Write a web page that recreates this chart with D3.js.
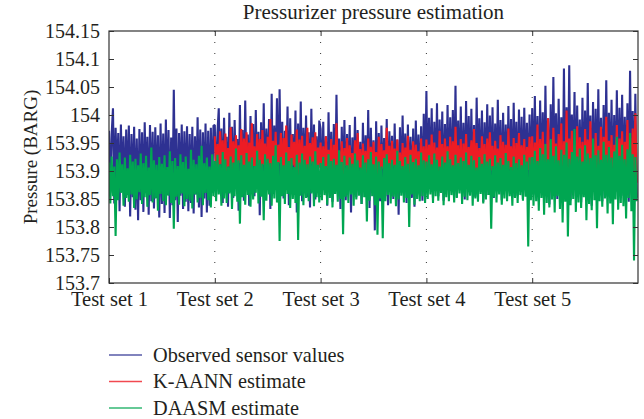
<!DOCTYPE html>
<html>
<head>
<meta charset="utf-8">
<script src="https://cdn.jsdelivr.net/npm/d3@7"></script>
<style>
  body { margin: 0; background: #fff; }
  text { font-family: "Liberation Serif", "DejaVu Serif", serif; fill: #231f20; }
</style>
</head>
<body>
<div id="chart"></div>
<script>
// Test set labels (one per x tick)
const testSets = ['Test set 1', 'Test set 2', 'Test set 3', 'Test set 4', 'Test set 5'];
const samplesPerSet = 80;
const yTicks = [153.7, 153.75, 153.8, 153.85, 153.9, 153.95, 154, 154.05, 154.1, 154.15];

// Observed sensor values, test sets 1-5 (80 samples each)
const observed = [
  // set 1
  153.972, 153.861, 153.965, 154.012, 153.842, 153.977, 153.884, 153.968, 153.828, 153.983, 153.871, 153.962, 153.836, 153.974, 153.857, 153.981, 153.819, 153.966, 153.853, 153.979,
  153.831, 153.958, 153.812, 153.975, 153.848, 153.969, 153.827, 153.987, 153.864, 153.961, 153.822, 153.982, 153.846, 153.97, 153.833, 153.978, 153.852, 153.964, 153.817, 153.985,
  153.841, 153.967, 153.825, 153.992, 153.857, 153.973, 153.816, 153.96, 153.839, 154.045, 153.848, 153.976, 153.809, 153.968, 153.856, 153.983, 153.832, 153.971, 153.845, 153.98,
  153.828, 153.966, 153.843, 153.979, 153.824, 153.962, 153.858, 153.996, 153.835, 153.974, 153.818, 153.969, 153.851, 153.985, 153.826, 153.972, 153.838, 153.977, 153.861, 153.981,
  // set 2
  153.982, 153.858, 153.968, 154.012, 153.871, 153.976, 153.843, 153.995, 153.887, 153.961, 153.836, 154.004, 153.865, 153.979, 153.852, 153.991, 153.878, 153.957, 153.829, 154.018,
  153.862, 153.973, 153.847, 154.026, 153.881, 153.965, 153.838, 153.998, 153.869, 153.984, 153.855, 154.009, 153.874, 153.97, 153.821, 153.987, 153.863, 154.021, 153.848, 153.976,
  153.885, 153.993, 153.832, 154.038, 153.859, 153.981, 153.876, 154.03, 153.844, 154.046, 153.867, 153.988, 153.851, 153.972, 153.883, 154.015, 153.839, 153.994, 153.872, 153.966,
  153.857, 154.008, 153.826, 153.985, 153.869, 154.024, 153.846, 153.977, 153.88, 153.999, 153.853, 153.969, 153.835, 154.011, 153.864, 153.983, 153.849, 153.962, 153.877, 153.99,
  // set 3
  153.975, 153.851, 153.988, 153.866, 153.962, 153.838, 154.005, 153.872, 153.97, 153.845, 153.984, 153.859, 154.036, 153.877, 153.958, 153.832, 153.979, 153.868, 153.991, 153.848,
  153.966, 153.875, 153.982, 153.826, 153.96, 153.862, 153.997, 153.853, 153.973, 153.881, 153.952, 153.841, 153.986, 153.869, 153.964, 153.857, 154.009, 153.834, 153.977, 153.873,
  153.955, 153.794, 153.989, 153.864, 153.968, 153.846, 153.981, 153.871, 153.959, 153.855, 153.993, 153.839, 153.971, 153.879, 153.963, 153.85, 153.985, 153.867, 153.956, 153.822,
  153.978, 153.861, 153.999, 153.874, 153.967, 153.843, 153.983, 153.868, 153.961, 153.852, 153.976, 153.836, 153.99, 153.876, 153.965, 153.858, 153.98, 153.847, 154.002, 153.87,
  // set 4
  154.043, 153.862, 153.995, 153.878, 154.012, 153.851, 153.988, 153.869, 154.021, 153.855, 153.992, 153.874, 154.006, 153.847, 153.984, 153.88, 154.018, 153.858, 153.996, 153.866,
  154.009, 153.871, 154.052, 153.853, 153.99, 153.877, 154.015, 153.861, 153.986, 153.849, 154.025, 153.872, 153.998, 153.859, 154.011, 153.868, 153.982, 153.854, 154.031, 153.876,
  153.994, 153.863, 154.008, 153.845, 153.987, 153.879, 154.019, 153.857, 153.999, 153.87, 154.014, 153.852, 153.985, 153.873, 154.027, 153.864, 153.991, 153.848, 154.004, 153.875,
  153.983, 153.86, 154.016, 153.867, 153.993, 153.853, 154.022, 153.874, 153.988, 153.856, 154.01, 153.869, 153.997, 153.85, 154.013, 153.878, 153.986, 153.862, 154.001, 153.871,
  // set 5
  154.012, 153.858, 154.034, 153.872, 153.998, 153.846, 154.026, 153.865, 154.005, 153.853, 154.052, 153.877, 153.994, 153.84, 154.019, 153.861, 154.068, 153.869, 154.003, 153.85,
  154.029, 153.874, 153.996, 153.843, 154.083, 153.859, 154.014, 153.866, 154.089, 153.848, 154.001, 153.878, 154.041, 153.855, 154.017, 153.87, 153.992, 153.844, 154.031, 153.862,
  154.008, 153.852, 154.057, 153.875, 153.999, 153.838, 154.023, 153.864, 154.011, 153.857, 154.046, 153.871, 153.995, 153.846, 154.018, 153.867, 154.062, 153.854, 154.004, 153.879,
  154.027, 153.849, 154.0, 153.863, 154.044, 153.842, 154.013, 153.873, 154.036, 153.856, 153.997, 153.868, 154.021, 153.845, 154.079, 153.876, 154.007, 153.86, 154.038, 153.852
];

// K-AANN estimate, only for test sets 2-5
const kaannFirstSet = 1;
const kaann = [
  // set 2
  153.962, 153.901, 153.948, 153.889, 153.971, 153.912, 153.955, 153.895, 153.967, 153.884, 153.941, 153.908, 153.978, 153.892, 153.953, 153.899, 153.964, 153.887, 153.946, 153.915,
  153.975, 153.893, 153.958, 153.904, 153.969, 153.881, 153.951, 153.897, 153.985, 153.909, 153.944, 153.89, 153.966, 153.903, 153.957, 153.886, 153.973, 153.911, 153.949, 153.894,
  153.961, 153.9, 153.993, 153.888, 153.954, 153.906, 153.97, 153.883, 153.947, 153.914, 153.968, 153.891, 153.959, 153.905, 153.981, 153.896, 153.943, 153.885, 153.965, 153.91,
  153.952, 153.898, 153.974, 153.887, 153.956, 153.907, 153.963, 153.892, 153.945, 153.902, 153.977, 153.889, 153.95, 153.913, 153.96, 153.895, 153.969, 153.884, 153.942, 153.906,
  // set 3
  153.951, 153.896, 153.944, 153.884, 153.962, 153.905, 153.938, 153.891, 153.957, 153.879, 153.947, 153.902, 153.985, 153.888, 153.935, 153.897, 153.953, 153.882, 153.941, 153.909,
  153.959, 153.887, 153.946, 153.9, 153.932, 153.878, 153.955, 153.894, 153.968, 153.906, 153.939, 153.885, 153.949, 153.898, 153.936, 153.881, 153.958, 153.903, 153.943, 153.89,
  153.952, 153.899, 153.934, 153.876, 153.961, 153.893, 153.948, 153.904, 153.937, 153.886, 153.977, 153.897, 153.945, 153.883, 153.954, 153.908, 153.94, 153.889, 153.956, 153.901,
  153.933, 153.88, 153.95, 153.895, 153.942, 153.906, 153.963, 153.887, 153.938, 153.899, 153.953, 153.884, 153.947, 153.902, 153.935, 153.891, 153.958, 153.896, 153.944, 153.888,
  // set 4
  153.956, 153.893, 153.947, 153.905, 153.965, 153.886, 153.951, 153.898, 153.942, 153.881, 153.972, 153.902, 153.948, 153.89, 153.958, 153.907, 153.944, 153.884, 153.961, 153.897,
  153.953, 153.888, 153.979, 153.903, 153.946, 153.892, 153.957, 153.879, 153.949, 153.9, 153.966, 153.887, 153.943, 153.906, 153.955, 153.894, 153.975, 153.883, 153.95, 153.899,
  153.941, 153.891, 153.962, 153.904, 153.948, 153.885, 153.958, 153.896, 153.969, 153.901, 153.945, 153.889, 153.954, 153.907, 153.94, 153.882, 153.964, 153.895, 153.952, 153.9,
  153.947, 153.886, 153.976, 153.903, 153.944, 153.893, 153.959, 153.88, 153.95, 153.905, 153.968, 153.89, 153.946, 153.898, 153.957, 153.884, 153.943, 153.902, 153.961, 153.893,
  // set 5
  153.962, 153.879, 153.951, 153.901, 153.983, 153.868, 153.957, 153.892, 153.97, 153.874, 153.948, 153.905, 153.994, 153.862, 153.955, 153.888, 153.977, 153.896, 153.949, 153.871,
  153.966, 153.899, 153.985, 153.865, 153.953, 153.886, 154.008, 153.877, 153.958, 153.903, 153.972, 153.869, 153.946, 153.891, 153.98, 153.876, 153.96, 153.895, 153.952, 153.864,
  153.975, 153.9, 153.956, 153.882, 153.989, 153.872, 153.95, 153.894, 153.968, 153.867, 153.945, 153.906, 153.979, 153.878, 153.961, 153.889, 153.997, 153.873, 153.954, 153.898,
  153.964, 153.87, 153.947, 153.893, 153.982, 153.863, 153.958, 153.887, 153.971, 153.881, 153.952, 153.904, 153.991, 153.875, 153.959, 153.866, 153.976, 153.89, 154.003, 153.879
];

// DAASM estimate, test sets 1-5
const daasm = [
  // set 1
  153.915, 153.842, 153.926, 153.855, 153.908, 153.784, 153.921, 153.848, 153.933, 153.861, 153.912, 153.838, 153.924, 153.852, 153.905, 153.845, 153.929, 153.858, 153.917, 153.834,
  153.922, 153.849, 153.91, 153.862, 153.931, 153.841, 153.914, 153.853, 153.927, 153.836, 153.906, 153.857, 153.942, 153.844, 153.919, 153.851, 153.911, 153.829, 153.925, 153.859,
  153.913, 153.846, 153.928, 153.839, 153.907, 153.856, 153.935, 153.843, 153.918, 153.797, 153.923, 153.854, 153.909, 153.84, 153.93, 153.86, 153.916, 153.837, 153.926, 153.85,
  153.904, 153.847, 153.938, 153.833, 153.92, 153.858, 153.912, 153.844, 153.927, 153.852, 153.945, 153.839, 153.914, 153.861, 153.924, 153.848, 153.908, 153.835, 153.93, 153.855,
  // set 2
  153.918, 153.846, 153.929, 153.858, 153.912, 153.838, 153.934, 153.851, 153.921, 153.843, 153.908, 153.86, 153.926, 153.832, 153.915, 153.855, 153.94, 153.845, 153.919, 153.806,
  153.928, 153.853, 153.911, 153.84, 153.932, 153.857, 153.917, 153.836, 153.924, 153.849, 153.909, 153.861, 153.936, 153.842, 153.92, 153.854, 153.913, 153.812, 153.93, 153.847,
  153.922, 153.858, 153.914, 153.838, 153.927, 153.851, 153.946, 153.844, 153.916, 153.775, 153.925, 153.855, 153.91, 153.841, 153.933, 153.859, 153.918, 153.834, 153.923, 153.85,
  153.907, 153.843, 153.929, 153.777, 153.915, 153.856, 153.931, 153.839, 153.92, 153.852, 153.912, 153.846, 153.926, 153.86, 153.917, 153.837, 153.935, 153.853, 153.911, 153.844,
  // set 3
  153.914, 153.848, 153.925, 153.857, 153.909, 153.84, 153.93, 153.852, 153.918, 153.835, 153.922, 153.859, 153.911, 153.845, 153.937, 153.85, 153.916, 153.787, 153.927, 153.854,
  153.91, 153.843, 153.924, 153.858, 153.913, 153.838, 153.931, 153.849, 153.919, 153.856, 153.906, 153.841, 153.928, 153.853, 153.915, 153.81, 153.921, 153.847, 153.934, 153.855,
  153.912, 153.839, 153.926, 153.786, 153.917, 153.851, 153.908, 153.78, 153.923, 153.846, 153.93, 153.857, 153.914, 153.842, 153.92, 153.854, 153.911, 153.837, 153.936, 153.849,
  153.918, 153.856, 153.909, 153.844, 153.925, 153.852, 153.913, 153.8, 153.929, 153.858, 153.916, 153.84, 153.922, 153.85, 153.91, 153.846, 153.933, 153.855, 153.919, 153.843,
  // set 4
  153.917, 153.85, 153.928, 153.858, 153.912, 153.843, 153.931, 153.855, 153.92, 153.847, 153.908, 153.861, 153.926, 153.839, 153.915, 153.853, 153.935, 153.846, 153.921, 153.857,
  153.91, 153.844, 153.929, 153.852, 153.914, 153.86, 153.924, 153.841, 153.918, 153.854, 153.933, 153.848, 153.911, 153.856, 153.927, 153.838, 153.919, 153.851, 153.906, 153.845,
  153.925, 153.859, 153.913, 153.842, 153.93, 153.849, 153.917, 153.857, 153.922, 153.797, 153.909, 153.853, 153.928, 153.844, 153.915, 153.858, 153.923, 153.84, 153.911, 153.851,
  153.932, 153.846, 153.918, 153.855, 153.907, 153.838, 153.926, 153.852, 153.914, 153.843, 153.921, 153.857, 153.91, 153.847, 153.929, 153.854, 153.917, 153.765, 153.924, 153.848,
  // set 5
  153.925, 153.838, 153.936, 153.846, 153.918, 153.829, 153.941, 153.852, 153.93, 153.822, 153.948, 153.843, 153.921, 153.835, 153.957, 153.849, 153.927, 153.826, 153.944, 153.855,
  153.919, 153.832, 153.938, 153.808, 153.929, 153.845, 153.951, 153.783, 153.922, 153.839, 153.934, 153.85, 153.975, 153.827, 153.926, 153.844, 153.94, 153.834, 153.917, 153.853,
  153.946, 153.812, 153.931, 153.841, 153.923, 153.83, 153.958, 153.848, 153.928, 153.798, 153.937, 153.846, 153.92, 153.836, 153.952, 153.851, 153.929, 153.824, 153.943, 153.842,
  153.924, 153.805, 153.935, 153.849, 153.961, 153.831, 153.927, 153.843, 153.947, 153.837, 153.921, 153.815, 153.939, 153.852, 153.968, 153.828, 153.93, 153.74, 153.925, 153.846
];

const seriesNames = ['Observed sensor values', 'K-AANN estimate', 'DAASM estimate'];
const seriesColors = ['#2e3192', '#ed1c24', '#00a651'];

// Layout
const W = 644, H = 419;
const margin = { top: 31, right: 6, bottom: 136, left: 109 };
const width = W - margin.left - margin.right;
const height = H - margin.top - margin.bottom;

const svg = d3.select('#chart').append('svg')
  .attr('width', W)
  .attr('height', H);

const g = svg.append('g')
  .attr('transform', `translate(${margin.left},${margin.top})`);

const x = d3.scaleLinear().domain([0, testSets.length]).range([0, width]);
const y = d3.scaleLinear().domain([153.7, 154.15]).range([height, 0]);

// Dotted verticals at set boundaries
g.append('g')
  .selectAll('line')
  .data(d3.range(1, testSets.length))
  .join('line')
  .attr('x1', d => x(d)).attr('x2', d => x(d))
  .attr('y1', 0).attr('y2', height)
  .attr('stroke', '#333')
  .attr('stroke-width', 1)
  .attr('stroke-dasharray', '1,10');

g.append('clipPath').attr('id', 'clip')
  .append('rect').attr('width', width).attr('height', height);

const line = d3.line()
  .x(d => x(d.t))
  .y(d => y(d.v));

const toPoints = (arr, firstSet) => arr.map((v, i) => ({ t: firstSet + i / samplesPerSet, v: v }));

const seriesData = [
  toPoints(observed, 0),
  toPoints(kaann, kaannFirstSet),
  toPoints(daasm, 0)
];

const plot = g.append('g').attr('clip-path', 'url(#clip)');
seriesData.forEach((pts, i) => {
  plot.append('path')
    .datum(pts)
    .attr('fill', 'none')
    .attr('stroke', seriesColors[i])
    .attr('stroke-width', 2.1)
    .attr('stroke-linejoin', 'bevel')
    .attr('d', line);
});

// Axes (ticks inward on all sides)
g.append('g')
  .attr('transform', `translate(0,${height})`)
  .call(d3.axisBottom(x).tickValues(d3.range(testSets.length)).tickSize(-5)
    .tickFormat(d => testSets[d]))
  .call(a => a.select('.domain').remove())
  .call(a => a.selectAll('line').attr('stroke', '#333'))
  .call(a => a.selectAll('text').style('font-size', '20.5px').attr('dy', null).attr('y', 23));

g.append('g')
  .call(d3.axisTop(x).tickValues(d3.range(1, testSets.length)).tickSize(-5).tickFormat(''))
  .call(a => a.select('.domain').remove())
  .call(a => a.selectAll('line').attr('stroke', '#333'));

g.append('g')
  .call(d3.axisLeft(y).tickValues(yTicks).tickSize(-5).tickPadding(9).tickFormat(d3.format('')))
  .call(a => a.select('.domain').remove())
  .call(a => a.selectAll('line').attr('stroke', '#333'))
  .call(a => a.selectAll('text').style('font-size', '20px'));

g.append('g')
  .attr('transform', `translate(${width},0)`)
  .call(d3.axisRight(y).tickValues(yTicks).tickSize(-5).tickFormat(''))
  .call(a => a.select('.domain').remove())
  .call(a => a.selectAll('line').attr('stroke', '#333'));

g.append('rect')
  .attr('width', width).attr('height', height)
  .attr('fill', 'none')
  .attr('stroke', '#333')
  .attr('stroke-width', 1.2);

// Title and axis label
svg.append('text')
  .attr('x', margin.left + width / 2)
  .attr('y', 19)
  .attr('text-anchor', 'middle')
  .style('font-size', '21px')
  .text('Pressurizer pressure estimation');

svg.append('text')
  .attr('transform', `translate(30,${margin.top + height / 2}) rotate(-90)`)
  .attr('text-anchor', 'middle')
  .attr('dy', '0.35em')
  .style('font-size', '19px')
  .text('Pressure (BARG)');

// Legend
const legend = svg.append('g').attr('transform', 'translate(109,355)');
seriesNames.forEach((name, i) => {
  const row = legend.append('g').attr('transform', `translate(0,${i * 26.5})`);
  row.append('line')
    .attr('x1', 0).attr('x2', 33)
    .attr('stroke', seriesColors[i])
    .attr('stroke-opacity', 0.8)
    .attr('stroke-width', 1.5);
  row.append('text')
    .attr('x', 44)
    .attr('dy', '0.32em')
    .style('font-size', '20.3px')
    .text(name);
});
</script>
</body>
</html>
